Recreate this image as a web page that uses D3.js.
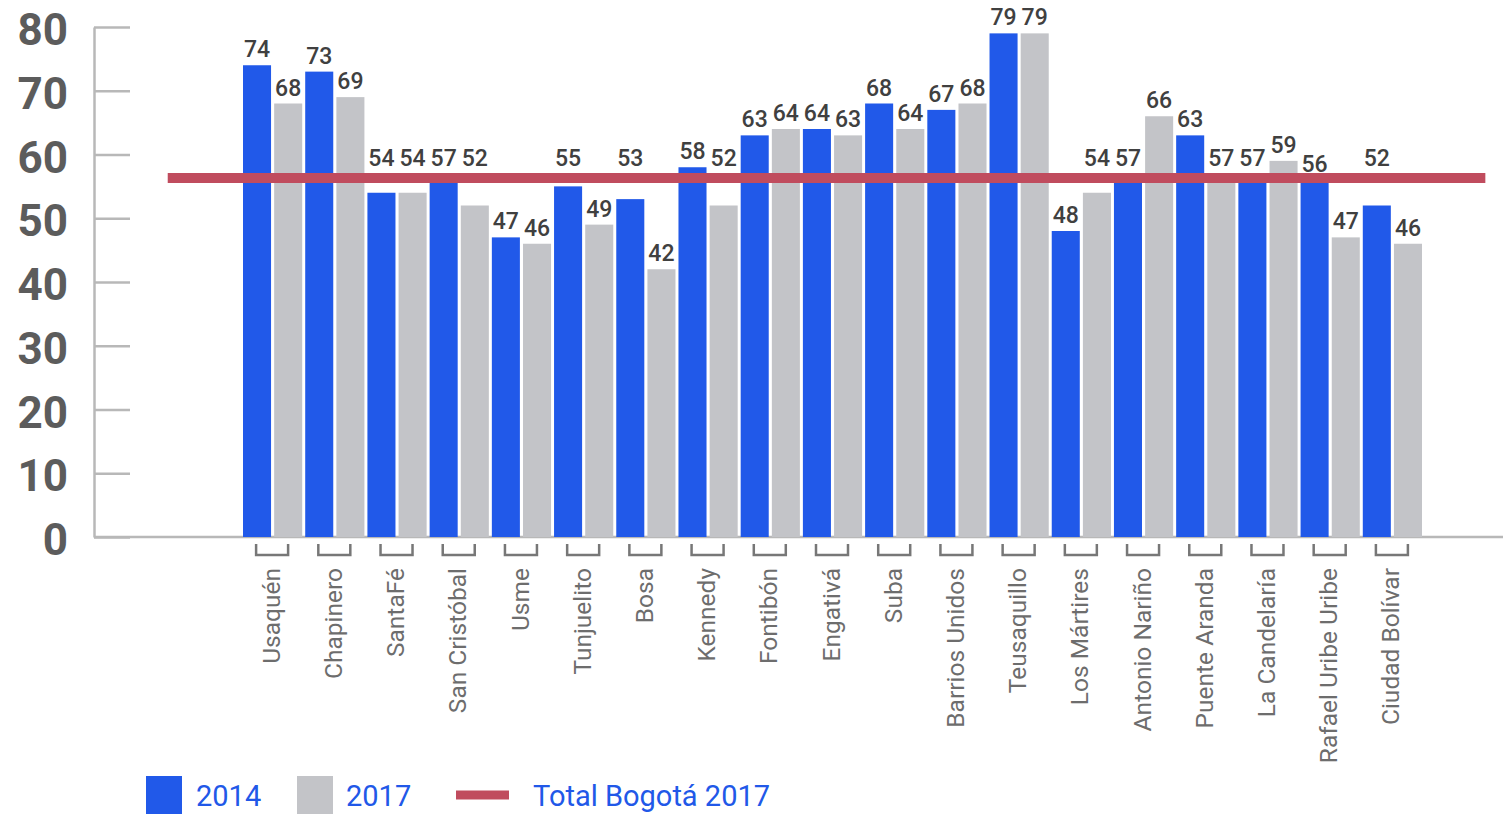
<!DOCTYPE html>
<html>
<head>
<meta charset="utf-8">
<script src="https://cdn.jsdelivr.net/npm/d3@7"></script>
<style>
  body { margin: 0; background: #fff; }
  svg { display: block; font-family: Roboto, sans-serif; }
</style>
</head>
<body>
<div id="chart-container"></div>
<script>
// Data
const localidades = ["Usaquén", "Chapinero", "SantaFé", "San Cristóbal", "Usme", "Tunjuelito", "Bosa",
  "Kennedy", "Fontibón", "Engativá", "Suba", "Barrios Unidos", "Teusaquillo", "Los Mártires",
  "Antonio Nariño", "Puente Aranda", "La Candelaría", "Rafael Uribe Uribe", "Ciudad Bolívar"];
const values2014 = [74, 73, 54, 57, 47, 55, 53, 58, 63, 64, 68, 67, 79, 48, 57, 63, 57, 56, 52];
const values2017 = [68, 69, 54, 52, 46, 49, 42, 52, 64, 63, 64, 68, 79, 54, 66, 57, 59, 47, 46];
const totalBogota2017 = 56.3;
const series = ["2014", "2017"];
const yTicks = [0, 10, 20, 30, 40, 50, 60, 70, 80];

const colors = { "2014": "#2159e9", "2017": "#c3c4c8" };
const lineColor = "#c04c5e";

const W = 1503, H = 815;

const svg = d3.select("#chart-container")
  .append("svg")
  .attr("width", W)
  .attr("height", H);

// Scales
const x = d3.scaleBand()
  .domain(localidades)
  .range([243, 1425]);

const x1 = d3.scaleBand()
  .domain(series)
  .range([0, x.bandwidth() - 3])
  .paddingInner(0.1);

const y = d3.scaleLinear()
  .domain([0, 80])
  .range([537, 27]);

// Y axis
const yAxis = svg.append("g")
  .attr("transform", "translate(94,0)")
  .call(d3.axisLeft(y).tickValues(yTicks).tickSizeInner(-36).tickSizeOuter(0).tickPadding(26));

yAxis.select(".domain").attr("stroke", "#b8b8b8").attr("stroke-width", 2.5);
yAxis.selectAll(".tick line").attr("stroke", "#b8b8b8").attr("stroke-width", 2.5);
yAxis.selectAll(".tick text")
  .attr("dy", "0.4em")
  .style("font-family", "Roboto, sans-serif")
  .style("font-size", "44px")
  .style("font-weight", "bold")
  .attr("fill", "#5c5c5c");

// X axis line
svg.append("line")
  .attr("x1", 94).attr("x2", W)
  .attr("y1", y(0)).attr("y2", y(0))
  .attr("stroke", "#b8b8b8")
  .attr("stroke-width", 2.5);

// Bars
const rows = localidades.map((name, i) => ({ name, "2014": values2014[i], "2017": values2017[i] }));

const groups = svg.selectAll(".grp")
  .data(rows)
  .enter().append("g")
  .attr("class", "grp")
  .attr("transform", d => `translate(${x(d.name)},0)`);

groups.selectAll("rect")
  .data(d => series.map(s => ({ key: s, value: d[s] })))
  .enter().append("rect")
  .attr("x", d => x1(d.key))
  .attr("width", x1.bandwidth())
  .attr("y", d => y(d.value))
  .attr("height", d => y(0) - y(d.value))
  .attr("fill", d => colors[d.key]);

// Reference line (Total Bogotá 2017)
const yLine = y(totalBogota2017);
svg.append("line")
  .attr("x1", x.range()[0] - x.step() * 1.21)
  .attr("x2", x.range()[1] + x.step() * 0.97)
  .attr("y1", yLine).attr("y2", yLine)
  .attr("stroke", lineColor)
  .attr("stroke-width", 10);

// Value labels (moved above the line when they would overlap it)
function labelY(v) {
  let b = y(v) - 8;
  if (b > yLine - 4 && b - 15 < yLine + 8) b = yLine - 12;
  return b;
}

groups.selectAll(".val")
  .data(d => series.map(s => ({ key: s, value: d[s] })))
  .enter().append("text")
  .attr("class", "val")
  .attr("x", d => x1(d.key) + x1.bandwidth() / 2)
  .attr("y", d => labelY(d.value))
  .attr("text-anchor", "middle")
  .style("font-size", "23px")
  .style("font-weight", 500)
  .attr("fill", "#404040")
  .text(d => d.value);

// Category brackets
svg.selectAll(".bracket")
  .data(localidades)
  .enter().append("path")
  .attr("class", "bracket")
  .attr("d", d => {
    const c = x(d) + x.bandwidth() / 2 - 2;
    return `M${c - 16},544 V555 H${c + 16} V544`;
  })
  .attr("fill", "none")
  .attr("stroke", "#777")
  .attr("stroke-width", 2.5);

// Category labels
svg.selectAll(".cat")
  .data(localidades)
  .enter().append("text")
  .attr("class", "cat")
  .attr("transform", d => `translate(${x(d) + x.bandwidth() / 2 - 3},568) rotate(-90)`)
  .attr("text-anchor", "end")
  .attr("dy", "0.35em")
  .style("font-size", "24.5px")
  .attr("fill", "#6d6d6d")
  .text(d => d);

// Legend
const legend = svg.append("g").attr("class", "legend");
const legendText = "#2158e8";

legend.append("rect").attr("x", 146).attr("y", 776).attr("width", 36).attr("height", 38).attr("fill", colors["2014"]);
legend.append("text").attr("x", 196).attr("y", 806).style("font-size", "29px").attr("fill", legendText).text("2014");

legend.append("rect").attr("x", 297).attr("y", 776).attr("width", 36).attr("height", 38).attr("fill", colors["2017"]);
legend.append("text").attr("x", 346).attr("y", 806).style("font-size", "29px").attr("fill", legendText).text("2017");

legend.append("line")
  .attr("x1", 456).attr("x2", 509)
  .attr("y1", 795).attr("y2", 795)
  .attr("stroke", lineColor)
  .attr("stroke-width", 9);
legend.append("text").attr("x", 533).attr("y", 806).style("font-size", "29px").attr("fill", legendText).text("Total Bogotá 2017");
</script>
</body>
</html>
